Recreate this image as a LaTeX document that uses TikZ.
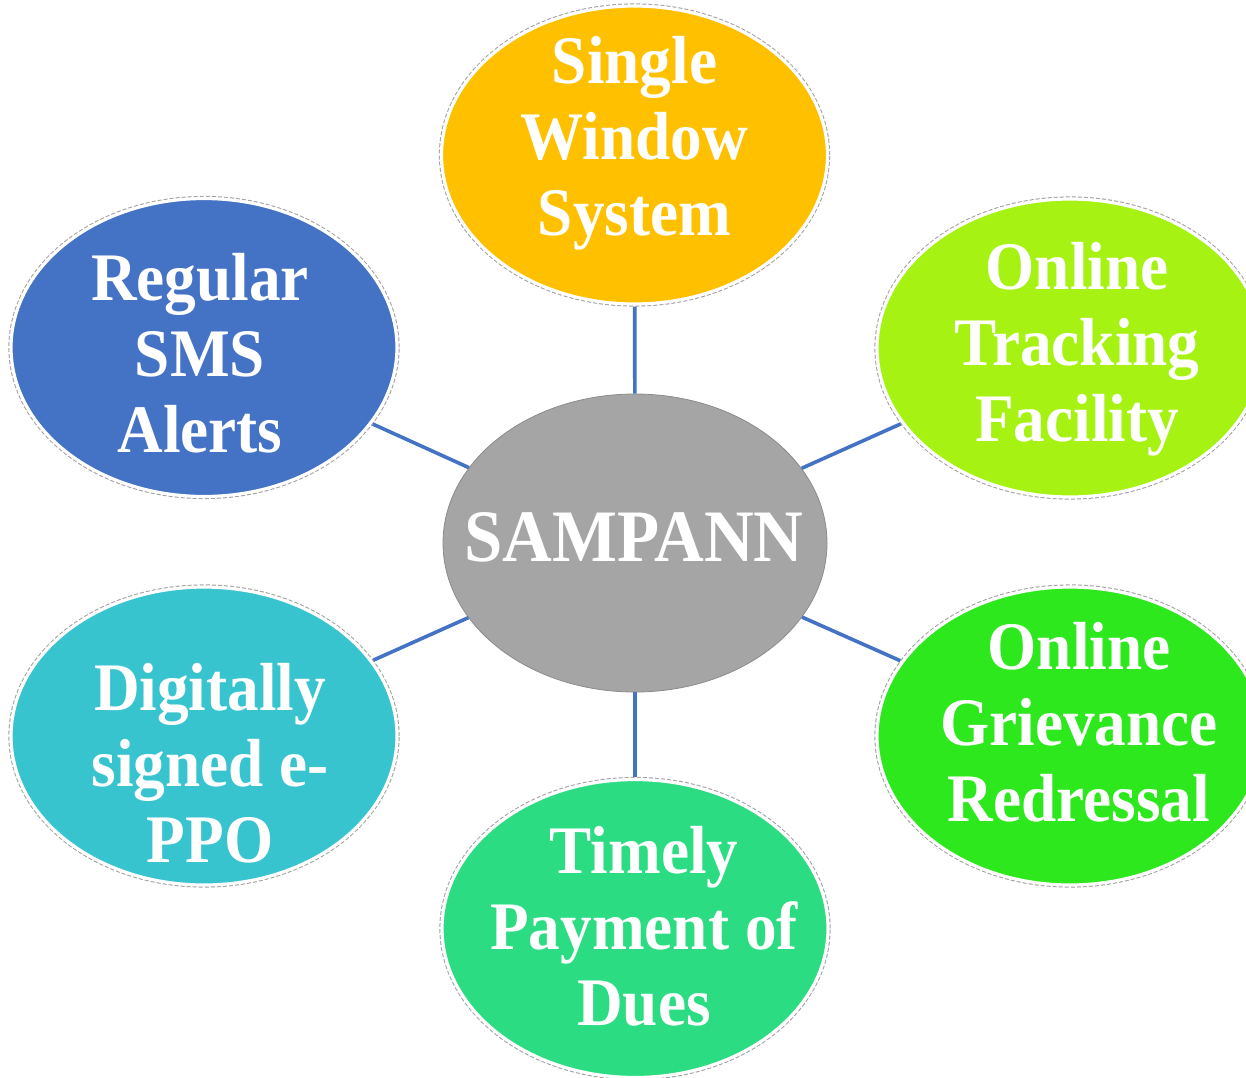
\documentclass[tikz,border=0pt]{standalone}
\usepackage{fontspec}
\setmainfont{Liberation Serif}[FakeStretch=0.93]
\usetikzlibrary{shapes.geometric}
\definecolor{hubgray}{HTML}{A5A5A5}
\definecolor{linkblue}{HTML}{4472C4}
\definecolor{c1}{HTML}{FFC000}
\definecolor{c2}{HTML}{A6F213}
\definecolor{c3}{HTML}{2EE81E}
\definecolor{c4}{HTML}{2BDC82}
\definecolor{c5}{HTML}{38C4CF}
\definecolor{c6}{HTML}{4472C4}

\begin{document}
\begin{tikzpicture}[x=0.5pt, y=-0.5pt,
	bubble/.style = {ellipse, minimum width=193pt, minimum height=149pt, inner sep=0pt, outer sep=1.3pt,
		draw=white, line width=1.6pt,
		preaction={draw=gray!75, line width=2.6pt, dash pattern=on 2pt off 1pt}},
	hub/.style = {ellipse, fill=hubgray, draw=hubgray!85!black, line width=0.4pt,
		minimum width=192pt, minimum height=149pt, inner sep=0pt},
	word/.style = {text=white, inner sep=0pt, align=center, font=\bfseries\fontsize{34}{38}\selectfont},
	link/.style = {draw=linkblue, line width=1.8pt}]
	\useasboundingbox (0,0) rectangle (1246,1077);
	\clip (0,0) rectangle (1246,1077);
	% hub and the six bubbles round it
	\node[hub] (0) at (635,543) {};
	\node[bubble, fill=c1] (1) at (634.5,155) {};
	\node[bubble, fill=c2] (2) at (1070,348) {};
	\node[bubble, fill=c3] (3) at (1070,736) {};
	\node[bubble, fill=c4] (4) at (635,928.5) {};
	\node[bubble, fill=c5] (5) at (204,736) {};
	\node[bubble, fill=c6] (6) at (204,347.5) {};
	\foreach \i in {1,...,6}
		\draw[link] (0) -- (\i);
	% texts
	\node[word, font=\bfseries\fontsize{37}{40}\selectfont] (t0) at (634,537.5) {SAMPANN};
	\node[word] (t1) at (634.5,143) {Single\\Window\\System};
	\node[word] (t2) at (1077,349) {Online\\Tracking\\Facility};
	\node[word] (t3) at (1079,722) {Online\\Grievance\\Redressal};
	\node[word] (t4) at (644,926) {Timely\\Payment of\\Dues};
	\node[word] (t5) at (210,763) {Digitally\\signed e-\\PPO};
	\node[word] (t6) at (200,353) {Regular\\SMS\\Alerts};
\end{tikzpicture}
\end{document}
